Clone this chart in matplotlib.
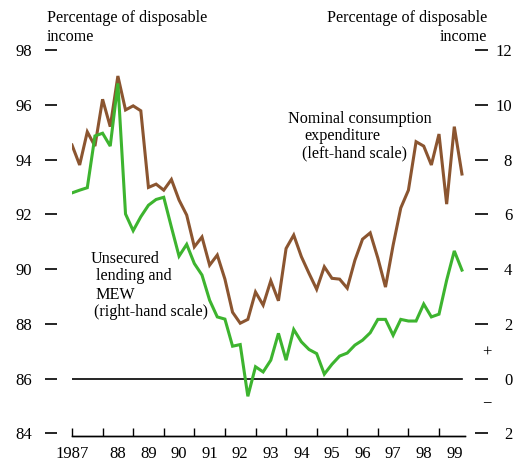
import matplotlib
matplotlib.use("Agg")
import matplotlib.pyplot as plt
import matplotlib.transforms as mtransforms

plt.rcParams['font.family'] = ['Liberation Serif', 'DejaVu Serif']

# quarterly data, 1987 Q1 .. 1999 Q4
quarters = [1987 + 0.25 * i for i in range(52)]

# Nominal consumption expenditure, % of disposable income (left-hand scale)
consumption = [94.53, 93.80, 95.01, 94.49, 96.20, 95.20, 97.05, 95.81,
               95.96, 95.78, 92.98, 93.10, 92.88, 93.27, 92.52, 91.97,
               90.81, 91.17, 90.14, 90.51, 89.63, 88.42, 88.02, 88.16,
               89.16, 88.68, 89.57, 88.84, 90.75, 91.24, 90.45, 89.84,
               89.26, 90.08, 89.66, 89.63, 89.30, 90.32, 91.09, 91.32,
               90.40, 89.34, 90.87, 92.23, 92.88, 94.65, 94.49, 93.80,
               94.93, 92.37, 95.20, 93.47]

# Unsecured lending and MEW, % of disposable income (right-hand scale)
lending_mew = [6.78, 6.88, 6.97, 8.86, 8.96, 8.49, 10.78, 6.01,
               5.40, 5.91, 6.33, 6.54, 6.62, 5.53, 4.47, 4.90,
               4.20, 3.78, 2.86, 2.25, 2.17, 1.18, 1.24, -0.65,
               0.43, 0.24, 0.67, 1.65, 0.67, 1.79, 1.34, 1.06,
               0.91, 0.16, 0.52, 0.82, 0.93, 1.22, 1.40, 1.67,
               2.16, 2.16, 1.58, 2.16, 2.10, 2.10, 2.72, 2.25,
               2.35, 3.59, 4.66, 3.96]

year_ticks = list(range(1987, 2000))
year_label_pos = [1987.02] + [y + 0.5 for y in range(1988, 2000)]
year_labels = ['1987'] + ['%02d' % (y % 100) for y in range(1988, 2000)]
left_ticks = [84, 86, 88, 90, 92, 94, 96, 98]
right_ticks = [-2, 0, 2, 4, 6, 8, 10, 12]
right_labels = ['2', '0', '2', '4', '6', '8', '10', '12']

consumption_note = ['Nominal consumption', 'expenditure', '(left-hand scale)']
lending_note = ['Unsecured', 'lending and', 'MEW', '(right-hand scale)']

BROWN = '#8b5530'
GREEN = '#3db42f'
FS = 11.6

fig = plt.figure(figsize=(5.14, 4.61), dpi=100)
ax = fig.add_axes([72 / 514, 1 - 436 / 461, (465 - 72) / 514, (436 - 50) / 461])
ax2 = ax.twinx()

ax.plot(quarters, consumption, color=BROWN, lw=2.2, solid_joinstyle='miter', zorder=3)
ax2.plot(quarters, lending_mew, color=GREEN, lw=2.2, solid_joinstyle='miter', zorder=3)
ax2.axhline(0, xmin=0, xmax=(1999.75 - 1987) / 12.85, color='black', lw=1.2, zorder=2)

ax.set_xlim(1987, 1999.85)
ax.set_ylim(83.9, 98.0)
ax2.set_ylim(-2.1, 12.0)

for a in (ax, ax2):
    for s in ('top', 'left', 'right'):
        a.spines[s].set_visible(False)
    a.spines['bottom'].set_linewidth(1.0)

# left scale: ticks stand off from the plot
ax.spines['left'].set_position(('outward', 11))
ax.set_yticks(left_ticks)
ax.tick_params(axis='y', direction='out', length=9, width=1.2, pad=9, labelsize=12)

# right scale
ax2.spines['right'].set_position(('outward', 7))
ax2.set_yticks(right_ticks)
ax2.set_yticklabels(right_labels)
ax2.tick_params(axis='y', direction='out', length=9, width=1.2, pad=18, labelsize=12)
for lab in ax2.get_yticklabels():
    lab.set_horizontalalignment('right')

# years: tick marks at year start, labels mid-year
ax.set_xticks(year_ticks)
ax.set_xticklabels([])
ax.tick_params(axis='x', which='major', direction='in', length=6, width=1.0)
ax.set_xticks(year_label_pos, minor=True)
ax.set_xticklabels(year_labels, minor=True)
ax.tick_params(axis='x', which='minor', length=0, pad=7, labelsize=12)

# headers
fig.text(47 / 514, 1 - 10 / 461, 'Percentage of disposable\nincome', ha='left', va='top',
         fontsize=FS, linespacing=1.28)
fig.text(487 / 514, 1 - 10 / 461, 'Percentage of disposable\nincome', ha='right', va='top',
         fontsize=FS, linespacing=1.28, multialignment='right')

# series labels, one line at a time (ragged left edge as in the original)
for txt, x, y in zip(consumption_note, [1994.06, 1994.61, 1994.52], [95.48, 94.86, 94.24]):
    ax.text(x, y, txt, ha='left', va='center', fontsize=FS)
for txt, x, y in zip(lending_note, [1987.61, 1987.78, 1987.78, 1987.72],
                     [90.36, 89.74, 89.05, 88.42]):
    ax.text(x, y, txt, ha='left', va='center', fontsize=FS)

# sign markers beside the right-hand scale
trans = mtransforms.blended_transform_factory(ax2.transAxes, ax2.transData)
ax2.text(1.056, 0.95, '+', transform=trans, ha='center', va='center', fontsize=12)
ax2.text(1.056, -0.9, '\u2212', transform=trans, ha='center', va='center', fontsize=12)

fig.savefig('out.png', dpi=100)
